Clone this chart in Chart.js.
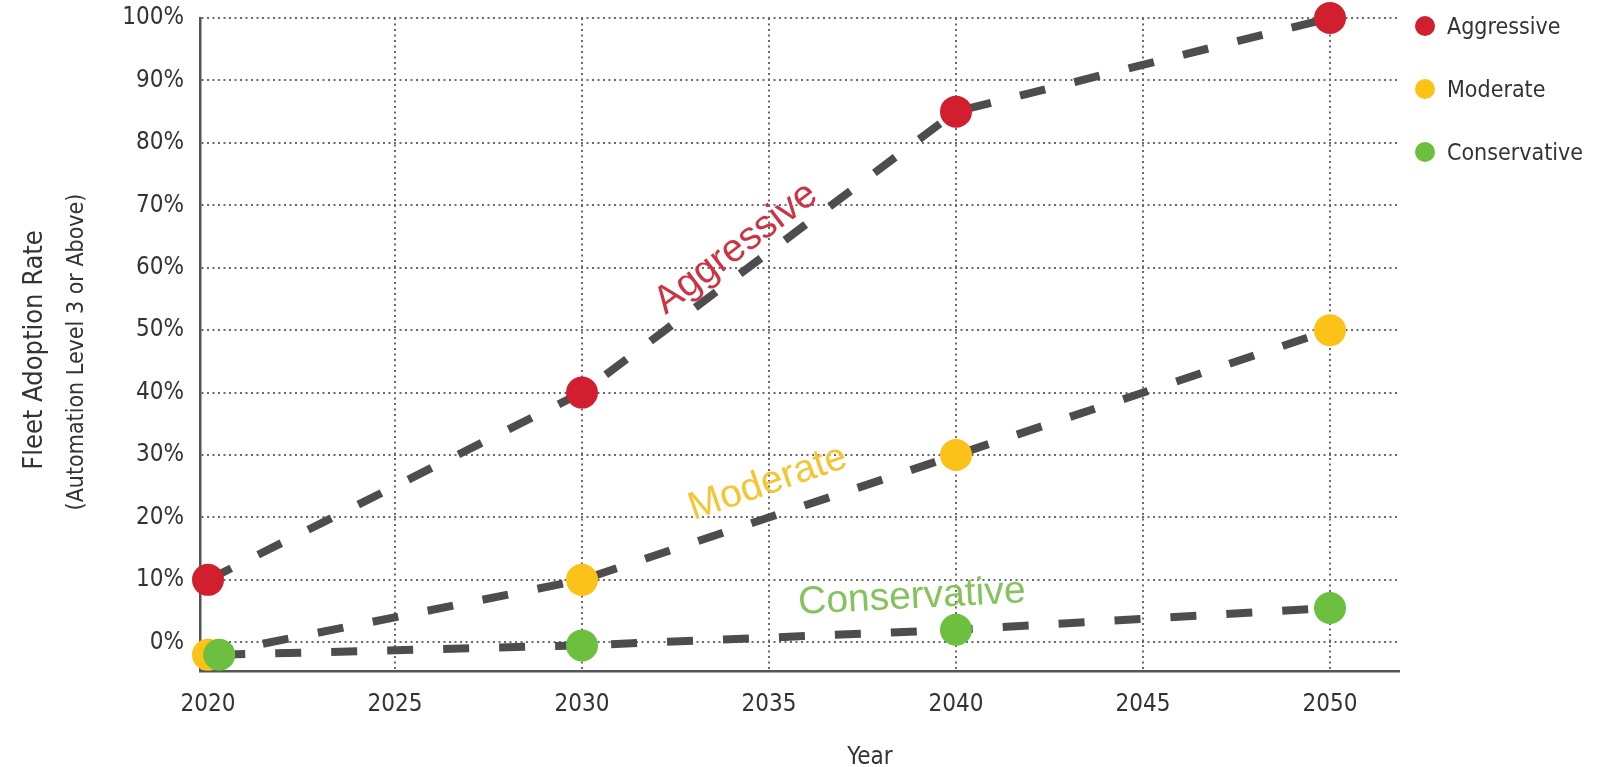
<!DOCTYPE html>
<html>
<head>
<meta charset="utf-8">
<title>Fleet Adoption Rate</title>
<script src="https://cdn.jsdelivr.net/npm/chart.js@4"></script>
<style>
    html, body { margin: 0; padding: 0; background: #fff; }
    #wrap { width: 1601px; height: 767px; }
</style>
</head>
<body>
<div id="wrap"><canvas id="adoptionChart" width="1601" height="767"></canvas></div>
<script>
// ===== DONNÉES =====
const years = [2020, 2030, 2040, 2050];
const conservativeYears = [2020.3, 2030, 2040, 2050];
const aggressive = [10, 40, 85, 100];
const moderate = [-2, 10, 30, 50];
const conservative = [-2, -0.5, 2, 5.5];

const xTicks = [2020, 2025, 2030, 2035, 2040, 2045, 2050];
const yTicks = [0, 10, 20, 30, 40, 50, 60, 70, 80, 90, 100];

const seriesNames = ['Aggressive', 'Moderate', 'Conservative'];
const seriesColors = ['#d11f2f', '#fdc218', '#6cbf3f'];

// étiquettes posées le long des courbes (en unités des axes)
const labelX = [2034.12, 2034.97, 2038.82];
const labelY = [63.1, 25.5, 7.2];
const labelAngle = [-37, -19, -3];
const labelSize = [39, 39, 39];
const labelColors = ['#cc3343', '#f4c534', '#86c35e'];

const NARROW = "'Liberation Sans Narrow', 'Arial Narrow', 'DejaVu Sans Condensed', sans-serif";
const REGULAR = "'Liberation Sans', Arial, sans-serif";

function toPoints(xs, ys) {
    return xs.map((x, i) => ({ x: x, y: ys[i] }));
}

function makeSeries(idx, xs, ys, order) {
    return {
        label: seriesNames[idx],
        data: toPoints(xs, ys),
        showLine: true,
        borderColor: '#4d4d4d',
        borderWidth: 8,
        borderDash: [26, 30],
        borderCapStyle: 'butt',
        pointRadius: 16,
        pointHoverRadius: 16,
        pointBackgroundColor: seriesColors[idx],
        pointBorderWidth: 0,
        pointBorderColor: seriesColors[idx],
        clip: false,
        order: order
    };
}

// ===== PLUGIN : titres, légende, étiquettes =====
const decorPlugin = {
    id: 'decor',
    afterDatasetsDraw(chart) {
        const ctx = chart.ctx;
        const xs = chart.scales.x;
        const ys = chart.scales.y;
        ctx.save();
        ctx.textAlign = 'center';
        ctx.textBaseline = 'middle';
        seriesNames.forEach((name, i) => {
            ctx.save();
            ctx.translate(xs.getPixelForValue(labelX[i]), ys.getPixelForValue(labelY[i]));
            ctx.rotate(labelAngle[i] * Math.PI / 180);
            ctx.font = labelSize[i] + 'px ' + REGULAR;
            ctx.fillStyle = labelColors[i];
            ctx.fillText(name, 0, 0);
            ctx.restore();
        });
        ctx.restore();
    },
    afterDraw(chart) {
        const ctx = chart.ctx;
        ctx.save();
        ctx.fillStyle = '#333';

        // titre axe Y (deux lignes)
        ctx.textAlign = 'center';
        ctx.textBaseline = 'alphabetic';
        ctx.save();
        ctx.translate(42, 350);
        ctx.rotate(-Math.PI / 2);
        ctx.font = '27px ' + NARROW;
        ctx.fillText('Fleet Adoption Rate', 0, 0);
        ctx.restore();
        ctx.save();
        ctx.translate(83, 352);
        ctx.rotate(-Math.PI / 2);
        ctx.font = '23px ' + NARROW;
        ctx.fillText('(Automation Level 3 or Above)', 0, 0);
        ctx.restore();

        // titre axe X
        ctx.font = '24px ' + NARROW;
        ctx.fillText('Year', 870, 764);

        // légende
        const dotY = [26, 89, 152];
        ctx.textAlign = 'left';
        seriesNames.forEach((name, i) => {
            ctx.beginPath();
            ctx.arc(1425, dotY[i], 10, 0, Math.PI * 2);
            ctx.fillStyle = seriesColors[i];
            ctx.fill();
            ctx.fillStyle = '#333';
            ctx.font = '23px ' + NARROW;
            ctx.fillText(name, 1447, dotY[i] + 8);
        });
        ctx.restore();
    }
};

// ===== GRAPHIQUE =====
function initChart() {
    const ctx = document.getElementById('adoptionChart').getContext('2d');

    window.adoptionChart = new Chart(ctx, {
        type: 'scatter',
        data: {
            datasets: [
                makeSeries(0, years, aggressive, 2),
                makeSeries(1, years, moderate, 1),
                makeSeries(2, conservativeYears, conservative, 0)
            ]
        },
        options: {
            responsive: false,
            animation: false,
            events: [],
            layout: { padding: { top: 18, right: 202, left: 0, bottom: 0 } },
            plugins: {
                legend: { display: false },
                tooltip: { enabled: false }
            },
            scales: {
                x: {
                    type: 'linear',
                    min: 2019.786,
                    max: 2051.845,
                    afterFit: scale => {
                        scale.height = 96;
                        scale.paddingLeft = 0;
                        scale.paddingRight = 0;
                    },
                    afterBuildTicks: scale => { scale.ticks = xTicks.map(v => ({ value: v })); },
                    ticks: {
                        padding: 19,
                        color: '#333',
                        font: { family: NARROW, size: 24 },
                        callback: v => String(v)
                    },
                    grid: {
                        drawTicks: false,
                        lineWidth: 2,
                        color: c => (c.tick && c.tick.value === 2020) ? 'rgba(0,0,0,0)' : '#6a6a6a'
                    },
                    border: { display: true, color: '#555', width: 2.5, dash: [2, 3.5] }
                },
                y: {
                    min: -4.6,
                    max: 100,
                    afterFit: scale => {
                        scale.width = 200;
                        scale.paddingTop = 0;
                        scale.paddingBottom = 0;
                    },
                    afterBuildTicks: scale => { scale.ticks = yTicks.map(v => ({ value: v })); },
                    ticks: {
                        padding: 16,
                        color: '#333',
                        font: { family: NARROW, size: 24 },
                        callback: v => v + '%'
                    },
                    grid: {
                        drawTicks: false,
                        lineWidth: 2,
                        color: '#6a6a6a'
                    },
                    border: { display: true, color: '#555', width: 2.5, dash: [2, 3.5] }
                }
            }
        },
        plugins: [decorPlugin]
    });
}

document.addEventListener('DOMContentLoaded', initChart);
</script>
</body>
</html>
